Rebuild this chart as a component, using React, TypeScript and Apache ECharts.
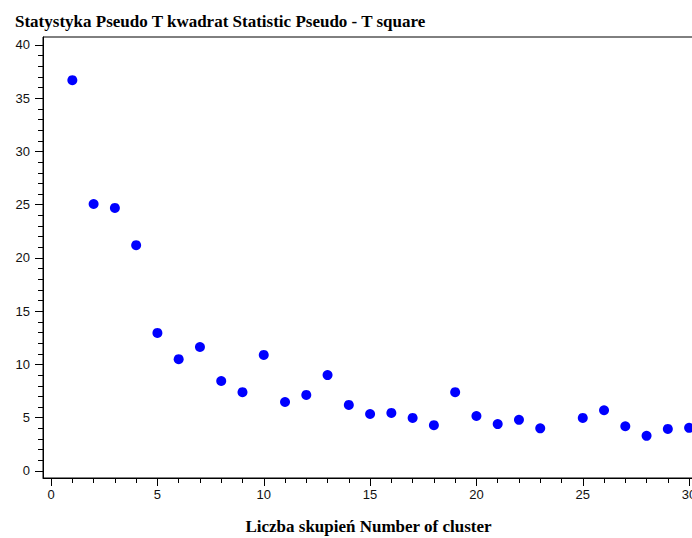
import React, { useEffect, useRef } from "react";
import * as echarts from "echarts";

const clusters = [1, 2, 3, 4, 5, 6, 7, 8, 9, 10, 11, 12, 13, 14, 15, 16, 17, 18, 19, 20, 21, 22, 23, 25, 26, 27, 28, 29, 30];
const pseudoT2 = [36.7, 25.07, 24.7, 21.2, 12.96, 10.5, 11.64, 8.45, 7.4, 10.9, 6.48, 7.14, 9.0, 6.2, 5.35, 5.45, 4.98, 4.3, 7.4, 5.16, 4.4, 4.8, 4.0, 4.98, 5.7, 4.2, 3.3, 3.95, 4.05];
const xMajor = [0, 5, 10, 15, 20, 25, 30];
const xMinor = Array.from({ length: 31 }, (_, i) => i);
const yMajor = [0, 5, 10, 15, 20, 25, 30, 35, 40];
const yMinor = Array.from({ length: 41 }, (_, i) => i);

const titleText = "Statystyka Pseudo T kwadrat Statistic Pseudo - T square";
const xName = "Liczba skupień Number of cluster";

export default function App() {
  const ref = useRef<HTMLDivElement>(null);
  useEffect(() => {
    document.body.style.margin = "0";
    const chart = echarts.init(ref.current!, null, { renderer: "svg" });
    const labelStyle = { color: "#111", fontFamily: "Liberation Sans", fontSize: 13 };
    const xMin = -0.38, xMax = 30.23, yMin = -0.66, yMax = 40.75;
    chart.setOption({
      animation: false,
      title: {
        text: titleText,
        left: 10,
        top: 8,
        textStyle: { fontFamily: "Liberation Serif", fontWeight: "bold", fontSize: 17, color: "#000" },
      },
      grid: {
        left: 43, top: 37, right: -2, bottom: 60,
        outerBoundsMode: "none", containLabel: false,
        show: true, borderColor: "#000", borderWidth: 1,
      },
      xAxis: [
        {
          type: "value", min: xMin, max: xMax, position: "bottom",
          axisLine: { show: true, onZero: false, lineStyle: { color: "#000" } },
          axisTick: { show: true, customValues: xMajor, length: 8, lineStyle: { color: "#000" } },
          axisLabel: { show: true, customValues: xMajor, margin: 10, ...labelStyle },
          splitLine: { show: false },
          name: xName, nameLocation: "middle", nameGap: 40,
          nameTextStyle: { fontFamily: "Liberation Serif", fontWeight: "bold", fontSize: 17, color: "#000" },
        },
        {
          type: "value", min: xMin, max: xMax, position: "bottom",
          axisLine: { show: false, onZero: false },
          axisTick: { show: true, customValues: xMinor, length: 5, lineStyle: { color: "#000" } },
          axisLabel: { show: false },
          splitLine: { show: false },
        },
      ],
      yAxis: [
        {
          type: "value", min: yMin, max: yMax, position: "left",
          axisLine: { show: true, onZero: false, lineStyle: { color: "#000" } },
          axisTick: { show: true, customValues: yMajor, length: 8, lineStyle: { color: "#000" } },
          axisLabel: { show: true, customValues: yMajor, margin: 13, ...labelStyle },
          splitLine: { show: false },
        },
        {
          type: "value", min: yMin, max: yMax, position: "left",
          axisLine: { show: false, onZero: false },
          axisTick: { show: true, customValues: yMinor, length: 5, lineStyle: { color: "#000" } },
          axisLabel: { show: false },
          splitLine: { show: false },
        },
      ],
      series: [
        {
          type: "scatter",
          xAxisIndex: 0,
          yAxisIndex: 0,
          symbol: "circle",
          symbolSize: 10,
          itemStyle: { color: "#0000ff", opacity: 1 },
          data: clusters.map((c, i) => [c, pseudoT2[i]]),
        },
      ],
    });
    return () => chart.dispose();
  }, []);
  return <div ref={ref} style={{ width: 692, height: 538 }} />;
}
